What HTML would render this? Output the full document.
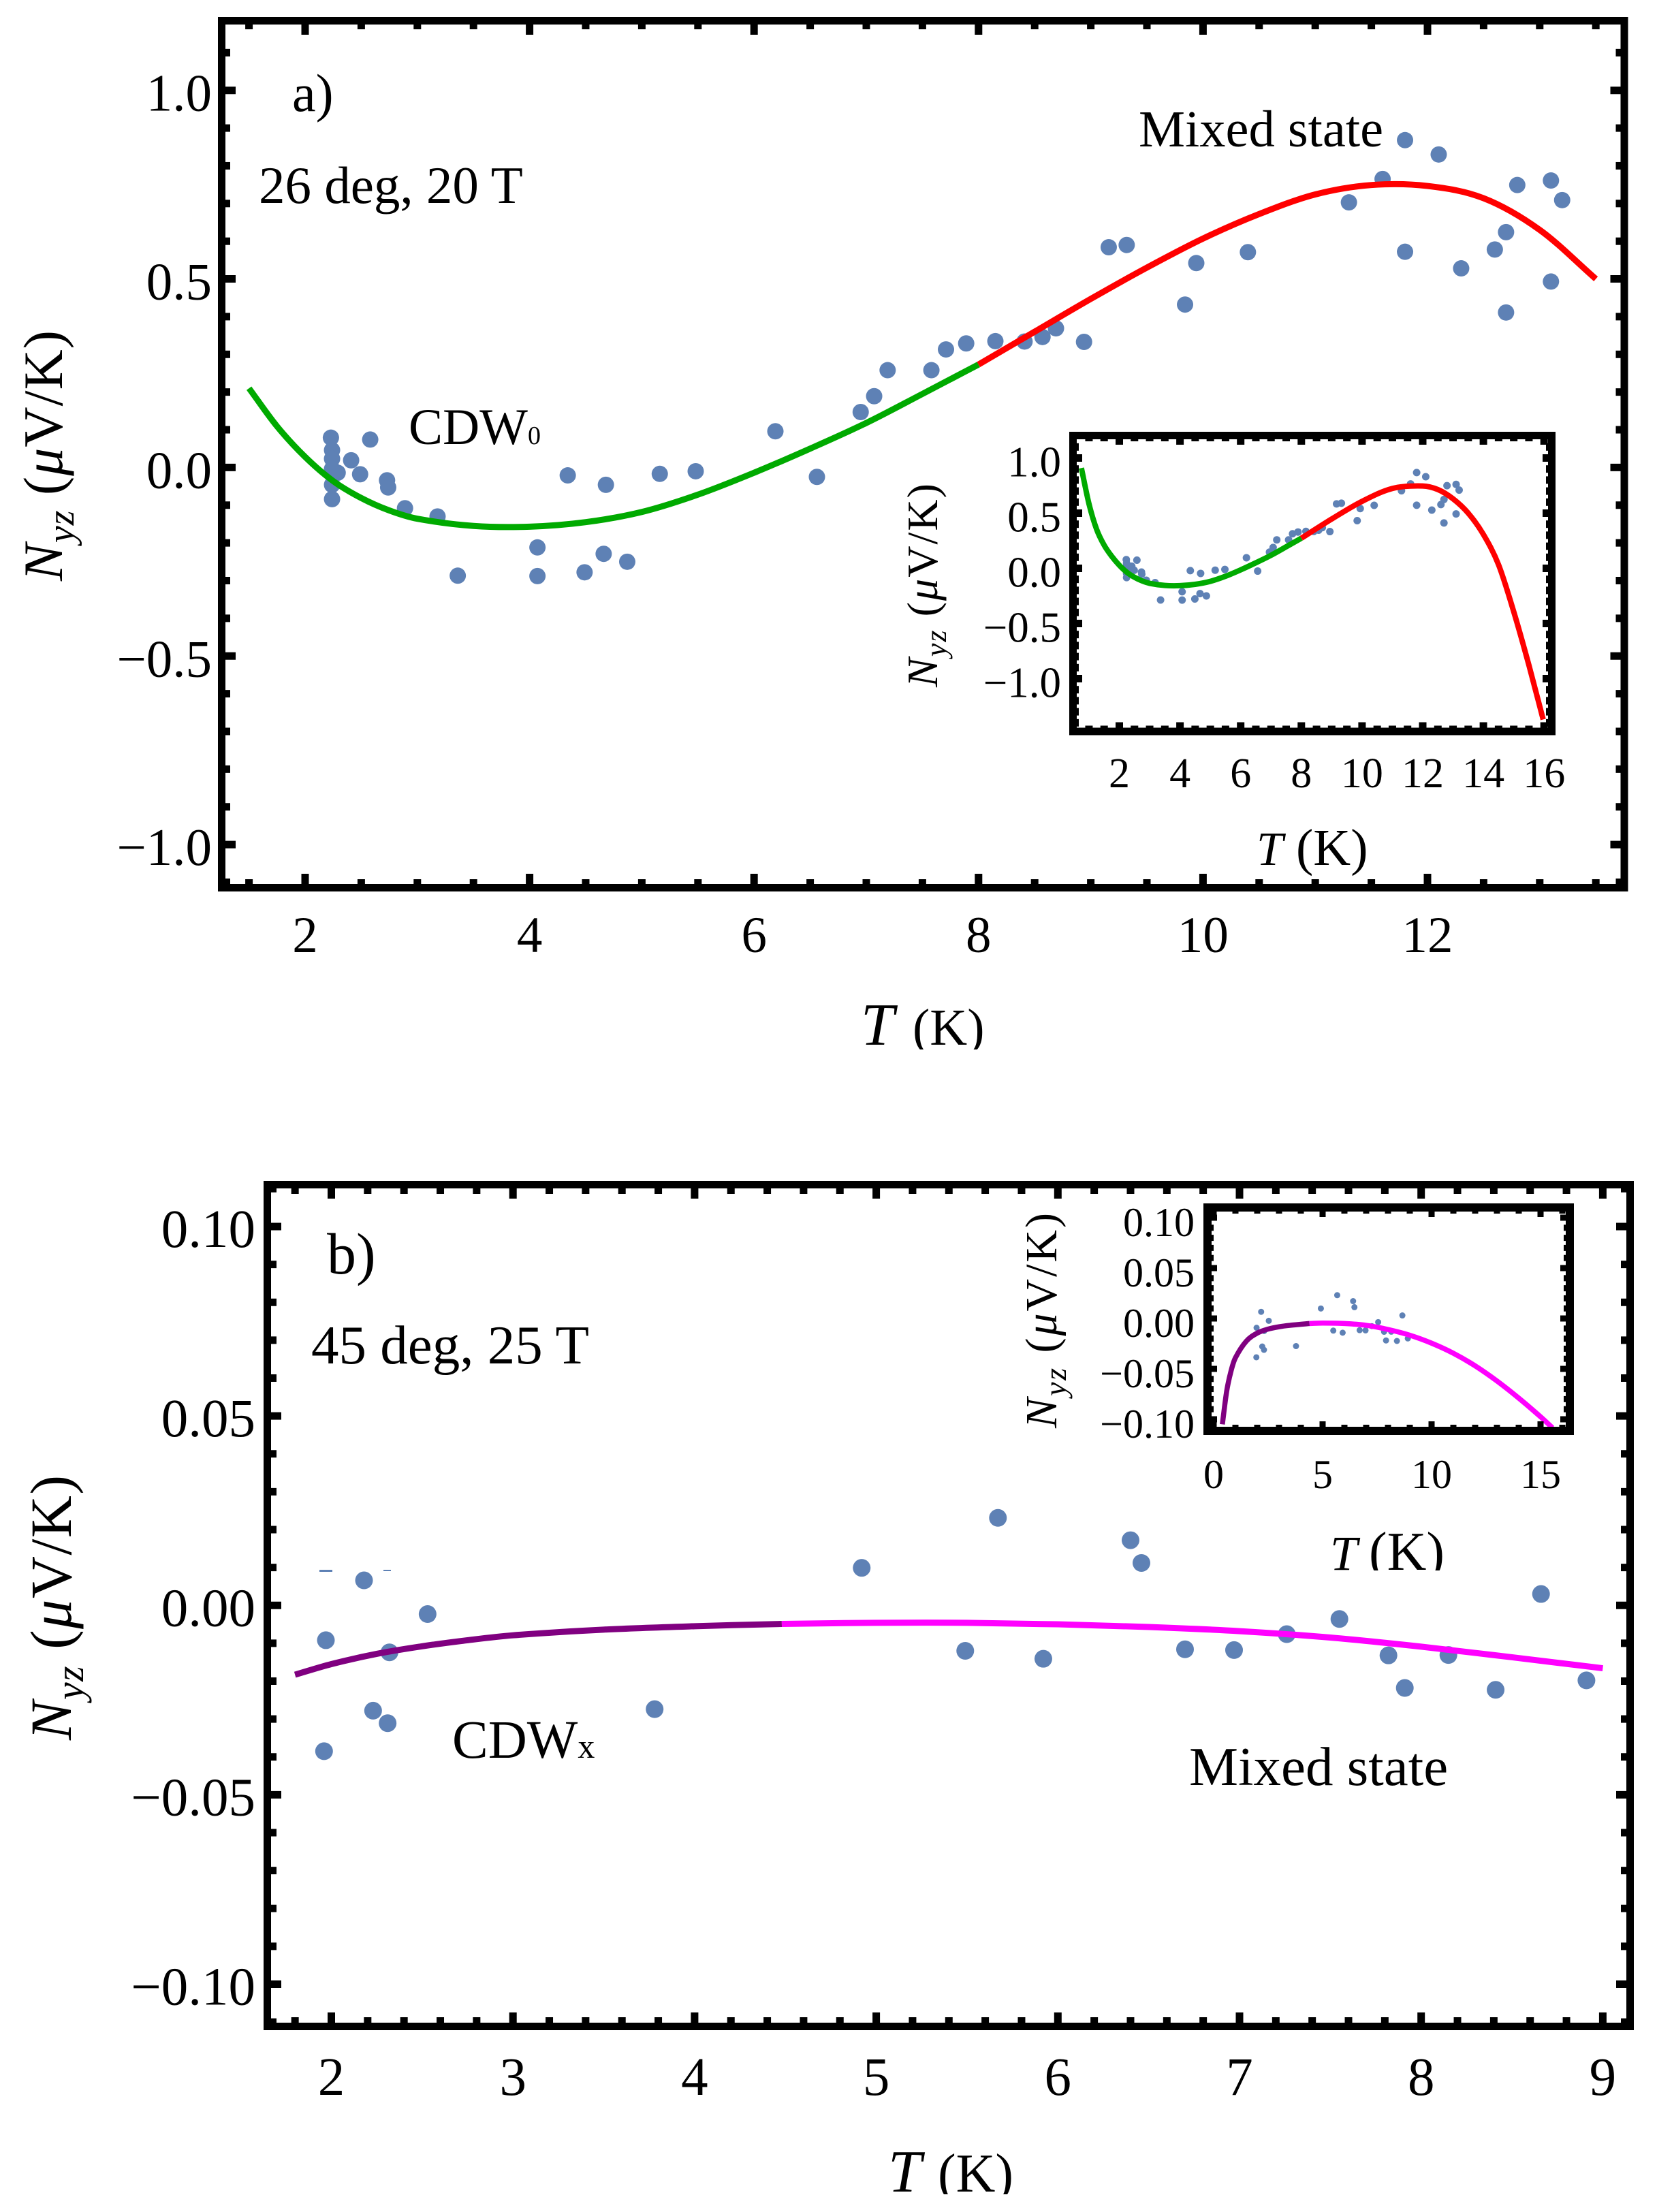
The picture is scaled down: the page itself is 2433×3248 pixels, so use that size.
<!DOCTYPE html>
<html lang="en">
<head>
<meta charset="utf-8">
<title>Nyz versus temperature</title>
<style>
html,body{margin:0;padding:0;background:#fff;}
svg{display:block;}
text{font-family:"Liberation Serif","Times New Roman",serif;fill:#000;}
.it{font-style:italic;}
</style>
</head>
<body>
<svg id="figure" xmlns="http://www.w3.org/2000/svg" width="2433" height="3248" viewBox="0 0 2433 3248">
  <defs>
    <clipPath id="clip-a-xtitle"><rect x="1200" y="1440" width="320" height="101"/></clipPath>
    <clipPath id="clip-b-inset-xtitle"><rect x="1900" y="2200" width="280" height="106"/></clipPath>
    <clipPath id="clip-b-xtitle"><rect x="1250" y="3130" width="320" height="92"/></clipPath>
  </defs>
  <rect x="0" y="0" width="2433" height="3248" fill="#fff"/>

  <g id="panel-a"></g>
  <g id="inset-a"></g>
  <g id="panel-b"></g>
  <g id="inset-b"></g>

  <!-- Panel a annotations -->
  <text x="429" y="163" font-size="78">a)</text>
  <text x="380" y="298" font-size="77">26 deg, 20 T</text>
  <text x="600" y="652" font-size="75">CDW<tspan font-size="38">0</tspan></text>
  <text x="1672" y="215" font-size="76.5">Mixed state</text>
  <text transform="translate(91,853) rotate(-90)" font-size="82" textLength="368" lengthAdjust="spacing"><tspan class="it">N</tspan><tspan class="it" font-size="56" dy="17">yz</tspan><tspan dy="-17"> (</tspan><tspan class="it">μ</tspan><tspan>V/K)</tspan></text>
  <g clip-path="url(#clip-a-xtitle)">
    <text class="it" x="1264" y="1534" font-size="88">T</text>
    <text x="1340" y="1534" font-size="76">(K)</text>
  </g>

  <!-- Panel a inset annotations -->
  <text transform="translate(1376,1009) rotate(-90)" font-size="64" textLength="299" lengthAdjust="spacing"><tspan class="it">N</tspan><tspan class="it" font-size="44" dy="13">yz</tspan><tspan dy="-13"> (</tspan><tspan class="it">μ</tspan><tspan>V/K)</tspan></text>
  <g>
    <text class="it" x="1845" y="1270" font-size="70">T</text>
    <text x="1903" y="1270" font-size="76">(K)</text>
  </g>

  <!-- Panel b annotations -->
  <text x="480" y="1870" font-size="86">b)</text>
  <text x="457" y="2002" font-size="81">45 deg, 25 T</text>
  <text x="664" y="2581" font-size="79">CDW<tspan font-size="50">x</tspan></text>
  <text x="1746" y="2621" font-size="81">Mixed state</text>
  <text transform="translate(104,2555) rotate(-90)" font-size="86" textLength="389" lengthAdjust="spacing"><tspan class="it">N</tspan><tspan class="it" font-size="58" dy="18">yz</tspan><tspan dy="-18"> (</tspan><tspan class="it">μ</tspan><tspan>V/K)</tspan></text>
  <g clip-path="url(#clip-b-xtitle)">
    <text class="it" x="1304" y="3218" font-size="88">T</text>
    <text x="1377" y="3218" font-size="80">(K)</text>
  </g>
  <rect x="469" y="2305" width="19" height="3" fill="#5E81B5"/>
  <rect x="563" y="2305" width="11" height="2" fill="#5E81B5"/>

  <!-- Panel b inset annotations -->
  <text transform="translate(1551,2097) rotate(-90)" font-size="66" textLength="316" lengthAdjust="spacing"><tspan class="it">N</tspan><tspan class="it" font-size="46" dy="14">yz</tspan><tspan dy="-14"> (</tspan><tspan class="it">μ</tspan><tspan>V/K)</tspan></text>
  <g clip-path="url(#clip-b-inset-xtitle)">
    <text class="it" x="1953" y="2305" font-size="72">T</text>
    <text x="2010" y="2305" font-size="80">(K)</text>
  </g>
</svg>

<script>
/* ---------- Panel a data ---------- */
const aPointT = [2.23,2.24,2.24,2.24,2.29,2.24,2.24,2.58,2.41,2.49,2.73,2.74,2.89,3.18,4.34,4.68,5.16,5.48,6.19,6.56,3.36,4.07,4.07,4.49,4.66,4.87,6.95,7.07,7.19,7.58,7.71,7.89,8.15,8.41,8.57,8.69,8.94,9.16,9.32,9.84,9.94,10.4,11.3,11.6,11.8,11.8,12.1,12.3,12.6,12.7,12.7,12.8,13.1,13.1,13.2];
const aPointN = [0.079,0.046,0.023,-0.004,-0.014,-0.046,-0.084,0.074,0.019,-0.018,-0.034,-0.053,-0.108,-0.13,-0.021,-0.046,-0.017,-0.01,0.096,-0.025,-0.287,-0.212,-0.288,-0.278,-0.229,-0.25,0.147,0.189,0.258,0.258,0.313,0.329,0.335,0.334,0.346,0.369,0.333,0.584,0.59,0.432,0.542,0.571,0.703,0.765,0.868,0.572,0.83,0.528,0.578,0.624,0.411,0.749,0.761,0.493,0.709];

const aCdwT = [1.5,1.75,2,2.25,2.5,2.75,3,3.5,4,4.5,5,5.5,6,6.5,7,7.5,8];
const aCdwN = [0.21,0.109,0.028,-0.036,-0.081,-0.114,-0.136,-0.155,-0.157,-0.145,-0.118,-0.072,-0.014,0.05,0.118,0.195,0.273];
const aMixedT = [8,8.5,9,9.5,10,10.5,11,11.5,12,12.5,13,13.5];
const aMixedN = [0.273,0.36,0.447,0.53,0.607,0.672,0.724,0.749,0.7465,0.714,0.63,0.5];

const aInsetCdwT = [0.75,1,1.25,1.5,1.75,2,2.25,2.5,2.75,3,3.5,4,4.5,5,5.5,6,6.5,7,7.5,8];
const aInsetCdwN = [0.909,0.585,0.355,0.21,0.109,0.028,-0.036,-0.081,-0.114,-0.136,-0.155,-0.157,-0.145,-0.118,-0.072,-0.014,0.05,0.118,0.195,0.273];
const aInsetMixedT = [8,9,10,11,12,12.5,13,13.5,14,14.5,15,15.5,15.97];
const aInsetMixedN = [0.273,0.447,0.607,0.724,0.7465,0.714,0.63,0.5,0.307,0.032,-0.393,-0.878,-1.37];

const aXTicks = [2,4,6,8,10,12];
const aXTickLabels = ['2','4','6','8','10','12'];
const aYTicks = [1,0.5,0,-0.5,-1];
const aYTickLabels = ['1.0','0.5','0.0','−0.5','−1.0'];
const aInsetXTicks = [2,4,6,8,10,12,14,16];
const aInsetXTickLabels = ['2','4','6','8','10','12','14','16'];
const aInsetYTicks = [1,0.5,0,-0.5,-1];
const aInsetYTickLabels = ['1.0','0.5','0.0','−0.5','−1.0'];

/* ---------- Panel b data ---------- */
const bPointT = [1.97,2.18,2.32,2.53,1.96,2.23,2.31,3.78,4.92,5.67,6.4,6.46,5.49,5.92,6.7,6.97,7.26,7.55,7.82,7.91,8.15,8.41,8.66,8.91];
const bPointN = [-0.0092,0.0066,-0.0124,-0.0023,-0.0385,-0.0278,-0.0311,-0.0274,0.0099,0.0231,0.0172,0.0112,-0.012,-0.0141,-0.0116,-0.0118,-0.0076,-0.0036,-0.0132,-0.0218,-0.0131,-0.0223,0.003,-0.0198];

const bCdwT = [1.8,2,2.25,2.5,2.75,3,3.5,4,4.48];
const bCdwN = [-0.0183,-0.0155,-0.0128,-0.0108,-0.0092,-0.0079,-0.0064,-0.0055,-0.0049];
const bMixedT = [4.48,5,5.5,6,6.5,7,7.5,8,8.5,9];
const bMixedN = [-0.0049,-0.0046,-0.0046,-0.005,-0.0057,-0.0068,-0.0085,-0.0109,-0.0137,-0.0166];

const bInsetCdwT = [0.4,0.6,0.8,1,1.5,2,2.5,3,3.5,4.4];
const bInsetCdwN = [-0.105,-0.072,-0.052,-0.039,-0.0225,-0.0145,-0.0105,-0.0082,-0.0068,-0.005];
const bInsetMixedT = [4.4,5,6,7,8,9,10,11,12,13,14,15,15.55];
const bInsetMixedN = [-0.005,-0.0046,-0.005,-0.0068,-0.0109,-0.0166,-0.0245,-0.0345,-0.047,-0.062,-0.079,-0.0975,-0.1085];

const bXTicks = [2,3,4,5,6,7,8,9];
const bXTickLabels = ['2','3','4','5','6','7','8','9'];
const bYTicks = [0.1,0.05,0,-0.05,-0.1];
const bYTickLabels = ['0.10','0.05','0.00','−0.05','−0.10'];
const bInsetXTicks = [0,5,10,15];
const bInsetXTickLabels = ['0','5','10','15'];
const bInsetYTicks = [0.1,0.05,0,-0.05,-0.1];
const bInsetYTickLabels = ['0.10','0.05','0.00','−0.05','−0.10'];

/* ---------- Helpers ---------- */
const NS = 'http://www.w3.org/2000/svg';
function axis(refValue, refPixel, pixelsPerUnit) {
  return function (v) { return refPixel + (v - refValue) * pixelsPerUnit; };
}
function range(start, end, step) {
  const out = [];
  const n = Math.round((end - start) / step);
  for (let i = 0; i <= n; i++) out.push(start + i * step);
  return out;
}
function isMajor(v, majors) {
  return majors.some(function (m) { return Math.abs(m - v) < 1e-6; });
}
/* Cubic Hermite spline with neighbour slopes, aware of uneven spacing */
function smoothPath(xs, ys) {
  const last = xs.length - 1;
  const slopes = xs.map(function (x, i) {
    const a = Math.max(i - 1, 0), b = Math.min(i + 1, last);
    return (ys[b] - ys[a]) / (xs[b] - xs[a]);
  });
  let d = 'M' + xs[0].toFixed(2) + ' ' + ys[0].toFixed(2);
  for (let i = 0; i < last; i++) {
    const h = (xs[i + 1] - xs[i]) / 3;
    d += 'C' + (xs[i] + h).toFixed(2) + ' ' + (ys[i] + slopes[i] * h).toFixed(2) + ' ' +
         (xs[i + 1] - h).toFixed(2) + ' ' + (ys[i + 1] - slopes[i + 1] * h).toFixed(2) + ' ' +
         xs[i + 1].toFixed(2) + ' ' + ys[i + 1].toFixed(2);
  }
  return d;
}
function drawPoints(group, sx, sy, ts, ns, radius) {
  ts.forEach(function (t, i) {
    const c = document.createElementNS(NS, 'circle');
    
    
    c.setAttribute('cx', sx(t).toFixed(2));
    c.setAttribute('cy', sy(ns[i]).toFixed(2));
    c.setAttribute('r', radius);
    c.setAttribute('fill', '#5E81B5');
    group.appendChild(c);
  });
}
function drawCurve(group, sx, sy, ts, ns, color, width, name) {
  const p = document.createElementNS(NS, 'path');
  
  
  p.setAttribute('d', smoothPath(ts.map(sx), ns.map(sy)));
  p.setAttribute('fill', 'none');
  p.setAttribute('stroke', color);
  p.setAttribute('stroke-width', width);
  group.appendChild(p);
}
function tickLine(group, x1, y1, x2, y2, width) {
  const l = document.createElementNS(NS, 'line');
  
  
  l.setAttribute('x1', x1.toFixed(2));
  l.setAttribute('y1', y1.toFixed(2));
  l.setAttribute('x2', x2.toFixed(2));
  l.setAttribute('y2', y2.toFixed(2));
  l.setAttribute('stroke', '#000');
  l.setAttribute('stroke-width', width);
  group.appendChild(l);
}
function drawTicks(group, sx, sy, box, xAll, xMajor, yAll, yMajor, majorLen, minorLen, width) {
  const half = box.sw / 2;
  xAll.forEach(function (t) {
    const len = (isMajor(t, xMajor) ? majorLen : minorLen) + half;
    tickLine(group, sx(t), box.top, sx(t), box.top + len, width);
    tickLine(group, sx(t), box.bottom, sx(t), box.bottom - len, width);
  });
  yAll.forEach(function (v) {
    const len = (isMajor(v, yMajor) ? majorLen : minorLen) + half;
    tickLine(group, box.left, sy(v), box.left + len, sy(v), width);
    tickLine(group, box.right, sy(v), box.right - len, sy(v), width);
  });
}
function drawFrame(group, box) {
  const r = document.createElementNS(NS, 'rect');
  
  
  r.setAttribute('x', box.left);
  r.setAttribute('y', box.top);
  r.setAttribute('width', box.right - box.left);
  r.setAttribute('height', box.bottom - box.top);
  r.setAttribute('fill', 'none');
  r.setAttribute('stroke', '#000');
  r.setAttribute('stroke-width', box.sw);
  group.appendChild(r);
}
function drawXLabels(group, sx, ticks, labels, baseline, size) {
  ticks.forEach(function (t, i) {
    const e = document.createElementNS(NS, 'text');
    
    
    e.setAttribute('x', sx(t).toFixed(2));
    e.setAttribute('y', baseline);
    e.setAttribute('font-size', size);
    e.setAttribute('text-anchor', 'middle');
    e.textContent = labels[i];
    group.appendChild(e);
  });
}
function drawYLabels(group, sy, ticks, labels, rightEdge, shift, size) {
  ticks.forEach(function (v, i) {
    const e = document.createElementNS(NS, 'text');
    
    
    e.setAttribute('x', rightEdge);
    e.setAttribute('y', (sy(v) + shift).toFixed(2));
    e.setAttribute('font-size', size);
    e.setAttribute('text-anchor', 'end');
    e.textContent = labels[i];
    group.appendChild(e);
  });
}

/* ---------- Panel a ---------- */
(function () {
  const g = document.getElementById('panel-a');
  const sx = axis(2, 448, 164.8);
  const sy = axis(0, 686.4, -553.7);
  const box = { left: 325.5, right: 2385, top: 30.5, bottom: 1303.5, sw: 11 };
  drawPoints(g, sx, sy, aPointT, aPointN, 12);
  drawCurve(g, sx, sy, aCdwT, aCdwN, '#00AA00', 9, 'fit-curve-cdw0');
  drawCurve(g, sx, sy, aMixedT, aMixedN, '#FF0000', 9, 'fit-curve-mixed-state');
  drawTicks(g, sx, sy, box, range(1.5, 13.5, 0.5), aXTicks, range(-1.1, 1.1, 0.1), aYTicks, 15, 7, 11);
  drawFrame(g, box);
  drawXLabels(g, sx, aXTicks, aXTickLabels, 1398, 75);
  drawYLabels(g, sy, aYTicks, aYTickLabels, 311, 30, 77);
})();

/* ---------- Panel a inset ---------- */
(function () {
  const g = document.getElementById('inset-a');
  const sx = axis(2, 1643.5, 44.55);
  const sy = axis(0, 834.5, -162);
  const box = { left: 1575.5, right: 2278.5, top: 639.5, bottom: 1074, sw: 11 };
  drawPoints(g, sx, sy, aPointT, aPointN, 5.5);
  drawCurve(g, sx, sy, aInsetCdwT, aInsetCdwN, '#00AA00', 8, 'inset-fit-curve-cdw0');
  drawCurve(g, sx, sy, aInsetMixedT, aInsetMixedN, '#FF0000', 8, 'inset-fit-curve-mixed-state');
  drawTicks(g, sx, sy, box, range(1, 16, 0.5), aInsetXTicks, range(-1.4, 1.1, 0.1), aInsetYTicks, 8, 3, 11);
  drawFrame(g, box);
  drawXLabels(g, sx, aInsetXTicks, aInsetXTickLabels, 1156, 62);
  drawYLabels(g, sy, aInsetYTicks, aInsetYTickLabels, 1558, 27, 63);
})();

/* ---------- Panel b ---------- */
(function () {
  const g = document.getElementById('panel-b');
  const sx = axis(2, 486.5, 266.7);
  const sy = axis(0, 2357.25, -5562.5);
  const box = { left: 392.5, right: 2393.5, top: 1739.5, bottom: 2975.5, sw: 11 };
  drawPoints(g, sx, sy, bPointT, bPointN, 13);
  drawCurve(g, sx, sy, bCdwT, bCdwN, '#800080', 9, 'fit-curve-cdwx');
  drawCurve(g, sx, sy, bMixedT, bMixedN, '#FF00FF', 9, 'fit-curve-mixed-state');
  drawTicks(g, sx, sy, box, range(1.8, 9, 0.2), bXTicks, range(-0.11, 0.11, 0.01), bYTicks, 15, 8, 11);
  drawFrame(g, box);
  drawXLabels(g, sx, bXTicks, bXTickLabels, 3076, 79);
  drawYLabels(g, sy, bYTicks, bYTickLabels, 375, 30, 79);
})();

/* ---------- Panel b inset ---------- */
(function () {
  const g = document.getElementById('inset-b');
  const sx = axis(0, 1782, 32);
  const sy = axis(0, 1936, -1480);
  const box = { left: 1773, right: 2305, top: 1773, bottom: 2101, sw: 12 };
  drawPoints(g, sx, sy, bPointT, bPointN, 4.5);
  drawCurve(g, sx, sy, bInsetCdwT, bInsetCdwN, '#800080', 7.5, 'inset-fit-curve-cdwx');
  drawCurve(g, sx, sy, bInsetMixedT, bInsetMixedN, '#FF00FF', 7.5, 'inset-fit-curve-mixed-state');
  drawTicks(g, sx, sy, box, range(0, 16, 1), bInsetXTicks, range(-0.1, 0.1, 0.01), bInsetYTicks, 8, 3, 9);
  drawFrame(g, box);
  drawXLabels(g, sx, bInsetXTicks, bInsetXTickLabels, 2185, 60);
  drawYLabels(g, sy, bInsetYTicks, bInsetYTickLabels, 1754, 27, 60);
})();
</script>
</body>
</html>
